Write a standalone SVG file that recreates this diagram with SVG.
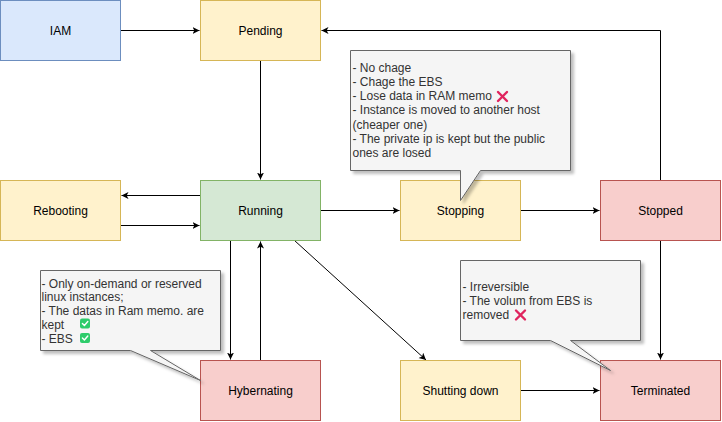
<svg xmlns="http://www.w3.org/2000/svg" width="722" height="422" viewBox="0 0 722 422">
<style>
.node rect{stroke-width:1}
.blue{fill:#dae8fc;stroke:#6c8ebf}
.yellow{fill:#fff2cc;stroke:#d6b656}
.green{fill:#d5e8d4;stroke:#82b366}
.red{fill:#f8cecc;stroke:#b85450}
.lbl{font-family:"Liberation Sans",Arial,sans-serif;font-size:12px;fill:#000;text-anchor:middle}
.note{fill:#f5f5f5;stroke:#666666;stroke-width:1}
.ntxt{font-family:"Liberation Sans",Arial,sans-serif;font-size:12px;fill:#333333}
.edge{fill:none;stroke:#000;stroke-width:1}
.xmark{stroke:#e0245e;stroke-width:2.4;stroke-linecap:round}
.chk{fill:#2ecc6b}
.chkm{fill:none;stroke:#fff;stroke-width:1.4;stroke-linecap:round;stroke-linejoin:round}
</style>
<defs>
<marker id="arr" markerWidth="8" markerHeight="8" refX="7" refY="3.5" orient="auto" markerUnits="userSpaceOnUse">
<path d="M0,0 L7,3.5 L0,7 L1.8,3.5 Z" fill="#000"/>
</marker>
<filter id="sh" x="-10%" y="-10%" width="130%" height="130%">
<feDropShadow dx="3" dy="3" stdDeviation="1.5" flood-color="#000" flood-opacity="0.25"/>
</filter>
</defs>
<g transform="translate(0.5,0.5)">
<g id="connectors">
<path class="edge" d="M120,30 H199" marker-end="url(#arr)"/>
<path class="edge" d="M260,60 V179" marker-end="url(#arr)"/>
<path class="edge" d="M200,195 H121" marker-end="url(#arr)"/>
<path class="edge" d="M120,225 H199" marker-end="url(#arr)"/>
<path class="edge" d="M320,210 H399" marker-end="url(#arr)"/>
<path class="edge" d="M520,210 H599" marker-end="url(#arr)"/>
<path class="edge" d="M660,180 V30 H321" marker-end="url(#arr)"/>
<path class="edge" d="M660,240 V359" marker-end="url(#arr)"/>
<path class="edge" d="M230,240 V359" marker-end="url(#arr)"/>
<path class="edge" d="M260,360 V241" marker-end="url(#arr)"/>
<path class="edge" d="M294,240 L425.5,359.5" marker-end="url(#arr)"/>
<path class="edge" d="M520,390 H599" marker-end="url(#arr)"/>
</g>
<g id="iam" class="node"><rect class="blue" x="0" y="0" width="120" height="60"/><text class="lbl" x="60" y="34">IAM</text></g>
<g id="pending" class="node"><rect class="yellow" x="200" y="0" width="120" height="60"/><text class="lbl" x="260" y="34">Pending</text></g>
<g id="rebooting" class="node"><rect class="yellow" x="0" y="180" width="120" height="60"/><text class="lbl" x="60" y="214">Rebooting</text></g>
<g id="running" class="node"><rect class="green" x="200" y="180" width="120" height="60"/><text class="lbl" x="260" y="214">Running</text></g>
<g id="stopping" class="node"><rect class="yellow" x="400" y="180" width="120" height="60"/><text class="lbl" x="460" y="214">Stopping</text></g>
<g id="stopped" class="node"><rect class="red" x="600" y="180" width="120" height="60"/><text class="lbl" x="660" y="214">Stopped</text></g>
<g id="hybernating" class="node"><rect class="red" x="200" y="360" width="120" height="60"/><text class="lbl" x="260" y="394">Hybernating</text></g>
<g id="shutting-down" class="node"><rect class="yellow" x="400" y="360" width="120" height="60"/><text class="lbl" x="460" y="394">Shutting down</text></g>
<g id="terminated" class="node"><rect class="red" x="600" y="360" width="120" height="60"/><text class="lbl" x="660" y="394">Terminated</text></g>

<g id="note-stopping">
<path class="note" filter="url(#sh)" d="M350,50 H570 V170 H480 L460,200 V170 H350 Z"/>
<text class="ntxt" x="352" y="71">- No chage</text>
<text class="ntxt" x="352" y="85.3">- Chage the EBS</text>
<text class="ntxt" x="352" y="99.6">- Lose data in RAM memo</text>
<g transform="translate(502,96)"><line class="xmark" x1="-4.5" y1="-4.5" x2="4.5" y2="4.5"/><line class="xmark" x1="4.5" y1="-4.5" x2="-4.5" y2="4.5"/></g>
<text class="ntxt" x="352" y="113.9">- Instance is moved to another host</text>
<text class="ntxt" x="352" y="128.2">(cheaper one)</text>
<text class="ntxt" x="352" y="142.5">- The private ip is kept but the public</text>
<text class="ntxt" x="352" y="156.8">ones are losed</text>
</g>

<g id="note-hybernating">
<path class="note" filter="url(#sh)" d="M40,270 H220 V350 H150 L200,380 L130,350 H40 Z"/>
<text class="ntxt" x="41" y="287">- Only on-demand or reserved</text>
<text class="ntxt" x="41" y="300.8">linux instances;</text>
<text class="ntxt" x="41" y="314.6">- The datas in Ram memo. are</text>
<text class="ntxt" x="41" y="328.4">kept</text>
<g transform="translate(84.5,323)"><rect class="chk" x="-5" y="-5" width="10" height="10" rx="2"/><polyline class="chkm" points="-2.6,0 -0.6,2 2.8,-2"/></g>
<text class="ntxt" x="41" y="342.2">- EBS</text>
<g transform="translate(84.5,337.5)"><rect class="chk" x="-5" y="-5" width="10" height="10" rx="2"/><polyline class="chkm" points="-2.6,0 -0.6,2 2.8,-2"/></g>
</g>

<g id="note-terminated">
<path class="note" filter="url(#sh)" d="M460,260 H640 V340 H570 L610,370 L550,340 H460 Z"/>
<text class="ntxt" x="462" y="290">- Irreversible</text>
<text class="ntxt" x="462" y="304.3">- The volum from EBS is</text>
<text class="ntxt" x="462" y="318.6">removed</text>
<g transform="translate(520,314.5)"><line class="xmark" x1="-4.5" y1="-4.5" x2="4.5" y2="4.5"/><line class="xmark" x1="4.5" y1="-4.5" x2="-4.5" y2="4.5"/></g>
</g>
</g>
</svg>
